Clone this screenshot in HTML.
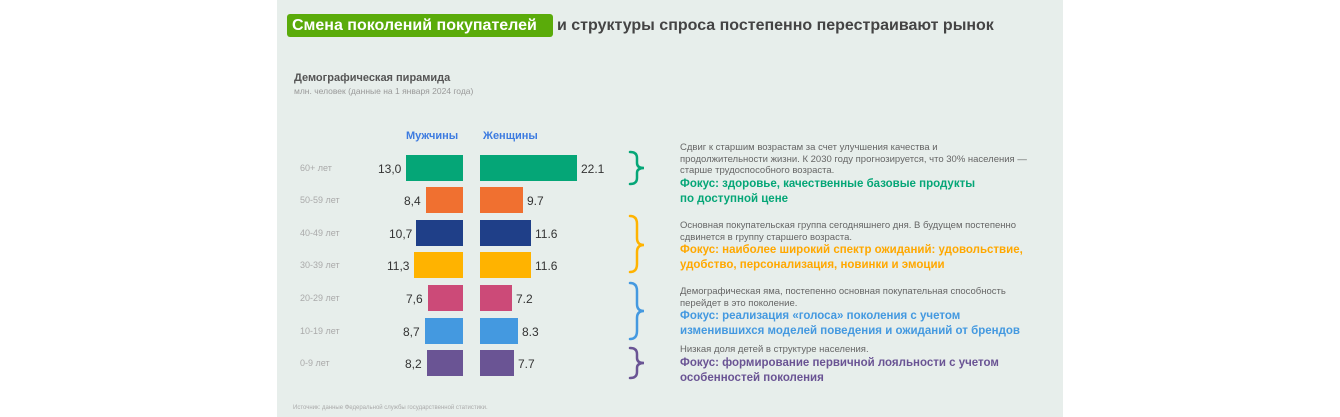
<!DOCTYPE html>
<html><head><meta charset="utf-8"><style>
*{margin:0;padding:0;box-sizing:border-box}
body{width:1340px;height:417px;background:#fff;position:relative;font-family:"Liberation Sans",sans-serif;overflow:hidden}
#p{position:absolute;left:277px;top:0;width:786px;height:417px;background:#e7eeeb}
.a{position:absolute;white-space:nowrap}
.t{font-size:16px;font-weight:bold;color:#444;top:17px}
.lab{font-size:9px;color:#aaa;left:300px}
.v{font-size:12px;color:#333}
.b{position:absolute;height:26px}
.d{font-size:9.5px;color:#666;line-height:11.5px;left:680px}
.f{font-size:11.5px;font-weight:bold;line-height:15px;left:680px}
</style></head><body>
<div id="p"></div>
<div class="a" style="left:287px;top:14px;width:266px;height:23px;background:#5aab0a;border-radius:3px"></div>
<div class="a t" style="left:292px;color:#fff">Смена поколений покупателей</div>
<div class="a t" style="left:557px">и структуры спроса постепенно перестраивают рынок</div>
<div class="a" style="left:294px;top:72px;font-size:11px;font-weight:bold;color:#555">Демографическая пирамида</div>
<div class="a" style="left:294px;top:86px;font-size:8.5px;color:#999">млн. человек (данные на 1 января 2024 года)</div>
<div class="a" style="left:406px;top:130px;font-size:11px;font-weight:bold;color:#3d7be0">Мужчины</div>
<div class="a" style="left:483px;top:130px;font-size:11px;font-weight:bold;color:#3d7be0">Женщины</div>

<div class="a lab" style="top:163px">60+ лет</div>
<div class="a lab" style="top:195px">50-59 лет</div>
<div class="a lab" style="top:228px">40-49 лет</div>
<div class="a lab" style="top:260px">30-39 лет</div>
<div class="a lab" style="top:293px">20-29 лет</div>
<div class="a lab" style="top:326px">10-19 лет</div>
<div class="a lab" style="top:358px">0-9 лет</div>

<div class="b" style="left:406px;width:57px;top:155px;background:#05a677"></div>
<div class="b" style="left:480px;width:97px;top:155px;background:#05a677"></div>
<div class="b" style="left:426px;width:37px;top:187px;background:#f07030"></div>
<div class="b" style="left:480px;width:43px;top:187px;background:#f07030"></div>
<div class="b" style="left:416px;width:47px;top:220px;background:#1f3f88"></div>
<div class="b" style="left:480px;width:51px;top:220px;background:#1f3f88"></div>
<div class="b" style="left:414px;width:49px;top:252px;background:#ffb300"></div>
<div class="b" style="left:480px;width:51px;top:252px;background:#ffb300"></div>
<div class="b" style="left:428px;width:35px;top:285px;background:#cc4a78"></div>
<div class="b" style="left:480px;width:32px;top:285px;background:#cc4a78"></div>
<div class="b" style="left:425px;width:38px;top:318px;background:#4499e0"></div>
<div class="b" style="left:480px;width:38px;top:318px;background:#4499e0"></div>
<div class="b" style="left:427px;width:36px;top:350px;background:#6a5494"></div>
<div class="b" style="left:480px;width:34px;top:350px;background:#6a5494"></div>

<div class="a v" style="left:378px;top:162px">13,0</div><div class="a v" style="left:581px;top:162px">22.1</div>
<div class="a v" style="left:404px;top:194px">8,4</div><div class="a v" style="left:527px;top:194px">9.7</div>
<div class="a v" style="left:389px;top:227px">10,7</div><div class="a v" style="left:535px;top:227px">11.6</div>
<div class="a v" style="left:387px;top:259px">11,3</div><div class="a v" style="left:535px;top:259px">11.6</div>
<div class="a v" style="left:406px;top:292px">7,6</div><div class="a v" style="left:516px;top:292px">7.2</div>
<div class="a v" style="left:403px;top:325px">8,7</div><div class="a v" style="left:522px;top:325px">8.3</div>
<div class="a v" style="left:405px;top:357px">8,2</div><div class="a v" style="left:518px;top:357px">7.7</div>

<svg class="a" style="left:0;top:0" width="1340" height="417" fill="none" stroke-width="2.5" stroke-linecap="round">
<path d="M630 152 Q637 152 637 158 L637 163 Q637 168 644 168 Q637 168 637 173 L637 178 Q637 184 630 184" stroke="#05a677"/>
<path d="M630 216 Q637 216 637 224 L637 238 Q637 245 644 245 Q637 245 637 252 L637 264 Q637 272 630 272" stroke="#ffb300"/>
<path d="M630 283 Q637 283 637 291 L637 304 Q637 311 644 311 Q637 311 637 318 L637 331 Q637 339 630 339" stroke="#4499e0"/>
<path d="M630 348 Q637 348 637 354 L637 358 Q637 363 644 363 Q637 363 637 368 L637 372 Q637 378 630 378" stroke="#6a5494"/>
</svg>

<div class="a d" style="top:142px">Сдвиг к старшим возрастам за счет улучшения качества и<br>продолжительности жизни. К 2030 году прогнозируется, что 30% населения —<br>старше трудоспособного возраста.</div>
<div class="a f" style="top:177px;color:#05a677">Фокус: здоровье, качественные базовые продукты<br>по доступной цене</div>
<div class="a d" style="top:220px">Основная покупательская группа сегодняшнего дня. В будущем постепенно<br>сдвинется в группу старшего возраста.</div>
<div class="a f" style="top:243px;color:#ffa800">Фокус: наиболее широкий спектр ожиданий: удовольствие,<br>удобство, персонализация, новинки и эмоции</div>
<div class="a d" style="top:286px">Демографическая яма, постепенно основная покупательная способность<br>перейдет в это поколение.</div>
<div class="a f" style="top:309px;color:#4499e0">Фокус: реализация «голоса» поколения с учетом<br>изменившихся моделей поведения и ожиданий от брендов</div>
<div class="a d" style="top:344px">Низкая доля детей в структуре населения.</div>
<div class="a f" style="top:356px;color:#6a5494">Фокус: формирование первичной лояльности с учетом<br>особенностей поколения</div>
<div class="a" style="left:293px;top:405px;font-size:6px;color:#aaa">Источник: данные Федеральной службы государственной статистики.</div>
</body></html>
